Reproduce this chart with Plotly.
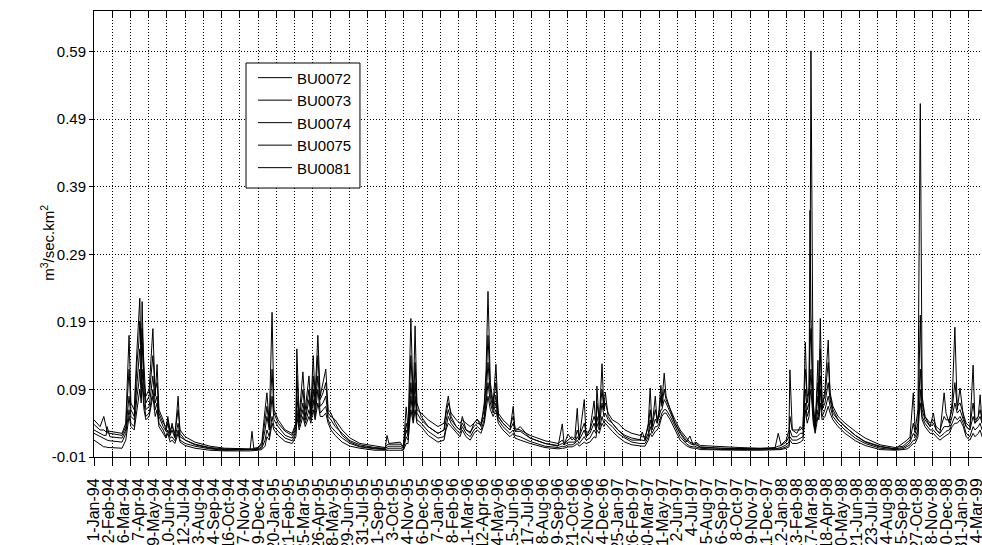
import pandas as pd
import plotly.graph_objects as go

START = "1994-01-01"

# x tick labels (every 32 days)
tick_labels = [
    "1-Jan-94", "2-Feb-94", "6-Mar-94", "7-Apr-94", "9-May-94", "10-Jun-94", "12-Jul-94",
    "13-Aug-94", "14-Sep-94", "16-Oct-94", "17-Nov-94", "19-Dec-94", "20-Jan-95", "21-Feb-95",
    "25-Mar-95", "26-Apr-95", "28-May-95", "29-Jun-95", "31-Jul-95", "1-Sep-95", "3-Oct-95",
    "4-Nov-95", "6-Dec-95", "7-Jan-96", "8-Feb-96", "11-Mar-96", "12-Apr-96", "14-May-96",
    "15-Jun-96", "17-Jul-96", "18-Aug-96", "19-Sep-96", "21-Oct-96", "22-Nov-96", "24-Dec-96",
    "25-Jan-97", "26-Feb-97", "30-Mar-97", "1-May-97", "2-Jun-97", "4-Jul-97", "5-Aug-97",
    "6-Sep-97", "8-Oct-97", "9-Nov-97", "11-Dec-97", "12-Jan-98", "13-Feb-98", "17-Mar-98",
    "18-Apr-98", "20-May-98", "21-Jun-98", "23-Jul-98", "24-Aug-98", "25-Sep-98", "27-Oct-98",
    "28-Nov-98", "30-Dec-98", "31-Jan-99", "4-Mar-99",
]
y_ticks = [-0.01, 0.09, 0.19, 0.29, 0.39, 0.49, 0.59]
series_names = ["BU0072", "BU0073", "BU0074", "BU0075", "BU0081"]

# days since 1-Jan-94 of the sampled points
days = [
    0, 13, 21, 26, 28, 34, 60, 68, 75, 79,
    86, 92, 96, 98, 101, 103, 107, 111, 118, 124,
    126, 131, 135, 139, 148, 154, 158, 163, 167, 173,
    180, 184, 195, 216, 248, 280, 334, 338, 342, 351,
    359, 366, 370, 375, 381, 385, 394, 409, 424, 432,
    434, 439, 447, 452, 460, 464, 469, 473, 479, 484,
    490, 496, 501, 507, 516, 531, 548, 569, 601, 623,
    627, 631, 655, 662, 668, 672, 674, 678, 683, 687,
    691, 700, 715, 736, 749, 753, 758, 764, 775, 783,
    788, 796, 805, 813, 820, 828, 835, 839, 843, 848,
    854, 860, 865, 875, 890, 897, 901, 912, 933, 965,
    993, 1002, 1006, 1014, 1023, 1029, 1034, 1038, 1049, 1053,
    1061, 1070, 1074, 1076, 1081, 1087, 1091, 1094, 1100, 1109,
    1121, 1136, 1151, 1168, 1173, 1179, 1186, 1190, 1194, 1201,
    1205, 1209, 1213, 1215, 1220, 1224, 1233, 1243, 1254, 1267,
    1275, 1282, 1288, 1297, 1340, 1382, 1425, 1457, 1464, 1470,
    1481, 1487, 1489, 1494, 1504, 1511, 1517, 1522, 1526, 1530,
    1532, 1534, 1539, 1543, 1549, 1551, 1554, 1558, 1564, 1571,
    1575, 1581, 1592, 1607, 1629, 1650, 1682, 1714, 1731, 1740,
    1746, 1753, 1757, 1763, 1765, 1768, 1772, 1778, 1789, 1796,
    1802, 1810, 1819, 1823, 1830, 1836, 1842, 1847, 1853, 1860,
    1866, 1874, 1881, 1885, 1892, 1896, 1900,
]

bu0072 = [
    .045, .035, .050, .030, .028, .028, .025, .040, .170, .070,
    .060, .150, .200, .225, .120, .220, .100, .080, .090, .150,
    .180, .080, .127, .060, .045, .030, .050, .025, .040, .020,
    .080, .025, .015, .008, .003, .001, .001, .028, .002, .003,
    .012, .060, .085, .040, .204, .060, .045, .030, .025, .040,
    .150, .050, .116, .060, .110, .060, .140, .080, .170, .080,
    .100, .120, .060, .055, .040, .022, .012, .006, .003, .002,
    .022, .010, .012, .005, .064, .030, .085, .195, .070, .184,
    .070, .050, .035, .025, .030, .060, .080, .050, .035, .030,
    .050, .030, .025, .040, .046, .035, .070, .120, .235, .100,
    .070, .127, .050, .040, .030, .065, .028, .035, .018, .010,
    .006, .039, .008, .024, .015, .020, .062, .015, .075, .020,
    .030, .073, .035, .095, .040, .128, .060, .086, .050, .040,
    .030, .020, .015, .015, .027, .015, .040, .092, .035, .080,
    .040, .060, .096, .070, .114, .080, .060, .040, .025, .012,
    .021, .008, .010, .004, .003, .002, .002, .003, .025, .008,
    .015, .030, .119, .030, .025, .035, .030, .160, .070, .090,
    .200, .591, .060, .030, .133, .070, .195, .060, .090, .163,
    .080, .060, .045, .035, .022, .012, .005, .002, .010, .015,
    .020, .085, .030, .060, .256, .513, .080, .050, .035, .055,
    .030, .025, .085, .055, .040, .070, .182, .060, .092, .050,
    .035, .030, .126, .040, .050, .082, .040,
]
bu0073 = [
    .038, .030, .030, .028, .026, .025, .022, .035, .120, .060,
    .050, .130, .160, .190, .140, .180, .120, .070, .080, .120,
    .140, .090, .100, .055, .040, .035, .045, .030, .035, .025,
    .060, .030, .020, .012, .006, .003, .002, .002, .003, .004,
    .008, .040, .065, .035, .120, .055, .040, .028, .022, .035,
    .110, .045, .090, .050, .090, .055, .110, .070, .140, .075,
    .085, .100, .055, .050, .045, .030, .018, .010, .006, .004,
    .008, .009, .009, .005, .040, .025, .060, .140, .065, .130,
    .060, .055, .045, .035, .040, .055, .070, .055, .045, .040,
    .045, .040, .035, .040, .045, .040, .060, .100, .170, .090,
    .065, .100, .055, .045, .035, .050, .032, .030, .022, .014,
    .010, .015, .010, .015, .020, .015, .030, .020, .040, .025,
    .030, .050, .040, .070, .045, .090, .060, .070, .055, .045,
    .040, .030, .025, .022, .020, .020, .035, .060, .035, .060,
    .045, .055, .080, .065, .090, .075, .060, .045, .030, .018,
    .012, .010, .012, .007, .005, .004, .003, .004, .006, .007,
    .012, .020, .050, .030, .030, .030, .035, .120, .080, .085,
    .355, .200, .070, .040, .100, .075, .150, .070, .080, .130,
    .085, .065, .050, .040, .028, .018, .008, .004, .006, .012,
    .015, .040, .025, .040, .120, .200, .070, .050, .040, .045,
    .035, .030, .050, .045, .045, .060, .100, .065, .070, .055,
    .040, .035, .070, .045, .050, .060, .045,
]
bu0074 = [
    .030, .025, .022, .022, .035, .020, .018, .030, .080, .050,
    .045, .100, .130, .150, .100, .160, .090, .060, .065, .100,
    .110, .070, .080, .050, .035, .028, .040, .022, .030, .018,
    .040, .020, .015, .009, .004, .002, .001, .001, .001, .002,
    .005, .030, .050, .030, .080, .045, .035, .022, .018, .030,
    .080, .040, .070, .045, .075, .050, .090, .060, .110, .065,
    .070, .080, .050, .045, .035, .025, .014, .008, .004, .003,
    .005, .006, .006, .003, .030, .020, .045, .100, .055, .100,
    .055, .045, .035, .025, .030, .045, .060, .045, .035, .030,
    .040, .030, .027, .035, .040, .038, .050, .080, .130, .080,
    .060, .080, .050, .040, .030, .040, .028, .028, .018, .010,
    .007, .010, .008, .012, .012, .012, .020, .015, .030, .020,
    .025, .040, .030, .050, .035, .070, .050, .055, .045, .040,
    .030, .022, .018, .015, .015, .014, .025, .045, .030, .046,
    .040, .050, .060, .060, .075, .070, .055, .040, .027, .015,
    .010, .008, .008, .005, .003, .002, .002, .002, .003, .004,
    .008, .012, .030, .020, .020, .025, .025, .090, .060, .070,
    .150, .180, .055, .035, .080, .060, .110, .060, .070, .100,
    .075, .055, .045, .035, .022, .013, .006, .002, .004, .008,
    .012, .025, .020, .030, .080, .120, .060, .045, .035, .040,
    .030, .025, .035, .035, .035, .050, .070, .055, .060, .045,
    .035, .030, .050, .040, .045, .050, .040,
]
bu0075 = [
    .025, .020, .018, .016, .015, .014, .012, .025, .060, .040,
    .035, .080, .100, .120, .080, .120, .070, .050, .055, .080,
    .090, .060, .070, .040, .030, .020, .030, .018, .020, .014,
    .030, .015, .010, .006, .002, .000, .000, .000, .000, .001,
    .003, .015, .030, .020, .050, .035, .028, .018, .014, .025,
    .060, .035, .060, .040, .060, .045, .075, .050, .090, .055,
    .060, .065, .045, .035, .028, .018, .010, .005, .002, .001,
    .002, .003, .003, .001, .020, .015, .035, .080, .045, .080,
    .045, .040, .028, .018, .020, .035, .050, .040, .030, .025,
    .035, .025, .020, .030, .035, .030, .045, .070, .100, .070,
    .055, .070, .045, .035, .025, .030, .022, .020, .013, .006,
    .004, .006, .005, .008, .008, .010, .015, .010, .020, .015,
    .018, .030, .025, .040, .030, .050, .040, .045, .040, .035,
    .025, .018, .012, .010, .010, .010, .020, .035, .025, .035,
    .035, .040, .050, .055, .060, .060, .050, .035, .020, .010,
    .006, .005, .005, .003, .001, .001, .001, .001, .001, .002,
    .005, .008, .020, .015, .015, .018, .020, .070, .050, .060,
    .100, .120, .045, .030, .060, .050, .090, .050, .060, .080,
    .065, .050, .040, .030, .018, .010, .003, .001, .002, .005,
    .008, .015, .015, .025, .060, .090, .050, .040, .030, .030,
    .025, .020, .025, .028, .030, .040, .050, .045, .050, .040,
    .025, .020, .035, .030, .035, .040, .030,
]
bu0081 = [
    .015, .008, .005, .005, .004, .004, .003, .015, .050, .035,
    .030, .060, .080, .090, .070, .100, .060, .045, .050, .070,
    .080, .050, .060, .035, .025, .018, .025, .012, .015, .010,
    .025, .012, .007, .003, .000, -.001, -.001, -.001, -.001, .000,
    .001, .006, .020, .015, .040, .030, .022, .013, .010, .020,
    .050, .030, .050, .035, .050, .040, .060, .045, .070, .050,
    .050, .055, .040, .030, .022, .012, .006, .003, .000, .000,
    .000, .001, .001, .000, .010, .010, .030, .060, .040, .060,
    .040, .035, .022, .012, .015, .030, .040, .035, .025, .020,
    .030, .020, .015, .025, .030, .025, .040, .060, .080, .060,
    .050, .060, .040, .030, .020, .025, .018, .015, .010, .004,
    .002, .003, .003, .005, .005, .007, .010, .006, .012, .010,
    .012, .020, .018, .030, .025, .040, .035, .040, .035, .028,
    .020, .012, .008, .006, .006, .006, .015, .025, .020, .028,
    .030, .035, .045, .050, .055, .055, .045, .030, .015, .007,
    .004, .003, .003, .001, .000, .000, .000, .000, .000, .001,
    .003, .005, .015, .010, .010, .012, .015, .060, .040, .050,
    .080, .090, .040, .025, .050, .045, .070, .045, .050, .065,
    .055, .045, .035, .025, .014, .007, .001, .000, .001, .002,
    .005, .010, .010, .020, .050, .070, .045, .035, .025, .025,
    .020, .015, .020, .022, .025, .035, .040, .040, .045, .035,
    .020, .015, .025, .020, .025, .030, .020,
]

start = pd.Timestamp(START)
dates = [start + pd.Timedelta(days=d) for d in days]
tick_dates = list(pd.to_datetime(tick_labels, format="%d-%b-%y"))
x_end = start + pd.Timedelta(days=1900)
FONT = "Liberation Sans, Arial, sans-serif"
DOTS = "1px,2px"

fig = go.Figure()
for name, vals in zip(series_names, [bu0072, bu0073, bu0074, bu0075, bu0081]):
    fig.add_trace(go.Scatter(
        x=dates, y=vals, mode="lines", name=name, legendgroup=name,
        line=dict(color="black", width=1),
    ))
# empty traces to anchor the grid / tick-mark overlay axes
fig.add_trace(go.Scatter(x=[], y=[], xaxis="x2", showlegend=False))
fig.add_trace(go.Scatter(x=[], y=[], xaxis="x3", showlegend=False))

fig.update_layout(
    width=982, height=545,
    margin=dict(l=94, r=0, t=11, b=88, autoexpand=False),
    paper_bgcolor="white", plot_bgcolor="white",
    font=dict(family=FONT, size=15, color="black"),
    showlegend=True,
    legend=dict(
        x=0.179, y=0.887, xanchor="left", yanchor="top",
        bgcolor="rgba(0,0,0,0)", borderwidth=0,
        font=dict(family=FONT, size=15, color="black"),
        tracegroupgap=5, traceorder="normal", itemwidth=34,
    ),
    shapes=[dict(
        type="rect", xref="paper", yref="paper",
        x0=0.1712, x1=0.2995, y0=0.6031, y1=0.8834,
        line=dict(color="black", width=1), fillcolor="white", layer="above",
    )],
    xaxis=dict(
        type="date", range=[start, x_end], automargin=False,
        tickmode="array", tickvals=tick_dates, ticktext=tick_labels,
        tickangle=-90, ticks="outside", ticklen=14, tickcolor="rgba(0,0,0,0)",
        ticklabeloverflow="allow",
        showgrid=False, zeroline=False,
        showline=True, linecolor="black", linewidth=1, mirror=True,
        tickfont=dict(family=FONT, size=16, color="black"),
    ),
    xaxis2=dict(
        type="date", overlaying="x", matches="x", side="bottom", automargin=False,
        tick0=START, dtick=39 * 86400000,
        showticklabels=False, ticks="outside", ticklen=8, tickcolor="black",
        showgrid=True, gridcolor="black", gridwidth=1, griddash=DOTS,
        showline=False, zeroline=False,
    ),
    xaxis3=dict(
        type="date", overlaying="x", matches="x", side="bottom", automargin=False,
        tick0=START, dtick=39 * 86400000,
        showticklabels=False, ticks="inside", ticklen=6, tickcolor="black",
        mirror="ticks", showgrid=False, showline=False, zeroline=False,
    ),
    yaxis=dict(
        range=[-0.01, 0.65], tickmode="array", tickvals=y_ticks, automargin=False,
        ticktext=[f"{v:.2f}" for v in y_ticks],
        ticks="outside", ticklen=4, tickcolor="black",
        showgrid=True, gridcolor="black", gridwidth=1, griddash=DOTS,
        zeroline=False, showline=True, linecolor="black", linewidth=1,
        tickfont=dict(family=FONT, size=15, color="black"),
    ),
    annotations=[dict(
        text="m<sup>3</sup>/sec.km<sup>2</sup>", textangle=-90,
        xref="paper", yref="paper", x=-0.052, y=0.48,
        xanchor="center", yanchor="middle", showarrow=False,
        font=dict(family=FONT, size=15, color="black"),
    )],
)

fig.write_html("out.html")
